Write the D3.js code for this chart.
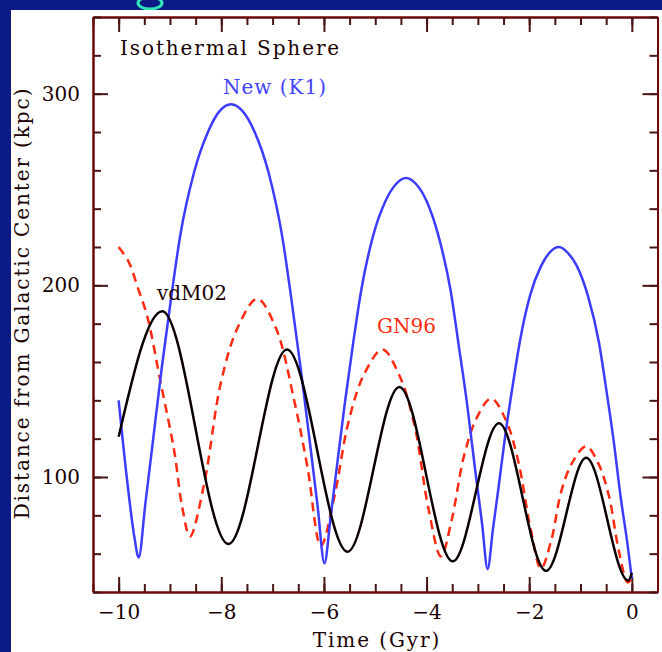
<!DOCTYPE html>
<html>
   <head>
      <meta charset="utf-8">
      <title>Isothermal Sphere orbits</title>
      <style media="screen">
         body {
         margin: 0;
         background: #0c1a86;
         }
         .tick text {
         font-family: "DejaVu Serif", serif;
         font-size: 20px;
         fill: #1a0000;
         }
         .label {
         font-family: "DejaVu Serif", serif;
         font-size: 20px;
         }
         .wide {
         letter-spacing: 1.9px;
         }
      </style>
      <script type="text/javascript" src="https://d3js.org/d3.v7.min.js"></script>
   </head>
   <body>
      <script>
         // size of the page and of the plot frame
         var w = 662;
         var h = 652;
         var left = 93;
         var right = 657.5;
         var top_y = 17;
         var bottom = 592;

         // axis ranges and tick values
         var x_domain = [-10.5, 0.5];
         var y_domain = [40, 340];
         var x_major = [-10, -8, -6, -4, -2, 0];
         var x_minor = d3.range(-10.5, 0.51, 0.5);
         var y_major = [100, 200, 300];
         var y_minor = d3.range(40, 341, 20);

         // New (K1) orbit, time in Gyr and distance in kpc
         var new_t = [-10, -9.83, -9.69, -9.61, -9.48, -9.34, -9.16, -8.98, -8.80, -8.53, -8.26, -8.03,
                      -7.81, -7.59, -7.35, -7.08, -6.81, -6.63, -6.45, -6.26, -6.12, -5.99,
                      -5.87, -5.75, -5.59, -5.43, -5.27, -5.04, -4.80, -4.59, -4.40,
                      -4.21, -4.00, -3.76, -3.53, -3.37, -3.21, -3.05, -2.92, -2.81,
                      -2.71, -2.60, -2.46, -2.32, -2.18, -1.98, -1.77, -1.59, -1.42,
                      -1.25, -1.07, -0.85, -0.64, -0.50, -0.36, -0.21, -0.09, 0];
         var new_r = [140, 97, 68, 58, 86, 117, 157, 193, 226, 259, 280, 291,
                      294.5, 291, 280, 259, 225, 192, 156, 115, 84, 55,
                      79, 105, 139, 170, 198, 226, 244, 253, 256,
                      253, 244, 225, 197, 168, 138, 103, 76, 52,
                      72, 94, 123, 148, 171, 195, 210, 217.5, 220,
                      217, 210, 194, 170, 146, 120, 88, 66, 47];

         // vdM02 orbit
         var vdm_t = [-10, -9.15, -7.86, -6.72, -5.54, -4.53, -3.49, -2.59, -1.67, -0.89, -0.07, 0];
         var vdm_r = [121, 186.5, 65, 166.5, 61, 147, 56, 128, 51, 110, 46, 50];

         // GN96 orbit
         var gn_t = [-10, -9.80, -9.63, -9.44, -9.18, -8.92, -8.76, -8.61,
                     -8.33, -8.01, -7.68, -7.30, -6.94, -6.58, -6.32, -6.06,
                     -5.81, -5.51, -5.21, -4.86, -4.53, -4.24, -3.96, -3.72,
                     -3.51, -3.27, -3.02, -2.74, -2.46, -2.22, -1.97, -1.77,
                     -1.57, -1.37, -1.15, -0.89, -0.66, -0.45, -0.25, -0.08, 0];
         var gn_r = [220, 212, 199, 183.5, 149, 114, 84, 69,
                     97, 149, 178, 193, 178, 140, 105, 64,
                     88, 130, 154, 166.5, 153, 127.6, 83, 58.6,
                     77.6, 111, 131, 141, 130, 109, 72.6, 52.2,
                     67, 93, 108, 116, 107.5, 90.5, 61, 45, 47];

         // labels written on the chart
         var title_text = "Isothermal Sphere";
         var x_title = "Time (Gyr)";
         var y_title = "Distance from Galactic Center (kpc)";

         var x_scale = d3.scaleLinear().domain(x_domain).range([left, right]);
         var y_scale = d3.scaleLinear().domain(y_domain).range([bottom, top_y]);

         var svg = d3.select("body")
                     .append("svg")
                     .attr("width", w)
                     .attr("height", h)
                     .style("display", "block");

         // dark background and the white sheet of the plot
         svg.append("rect")
            .attr("width", w)
            .attr("height", h)
            .attr("fill", "#0c1a86");
         svg.append("ellipse")
            .attr("cx", 150).attr("cy", 3)
            .attr("rx", 12).attr("ry", 6)
            .attr("fill", "none")
            .attr("stroke", "#2fe6b4")
            .attr("stroke-width", 3);
         svg.append("rect")
            .attr("x", 11)
            .attr("y", 10)
            .attr("width", w - 11)
            .attr("height", h - 10)
            .attr("fill", "white");

         // draws one axis with inward ticks
         function draw_axis(axis, transform, values, size, labels) {
           var g = svg.append("g")
              .attr("transform", transform)
              .call(axis.tickValues(values)
                        .tickSizeInner(-size)
                        .tickSizeOuter(0)
                        .tickPadding(13)
                        .tickFormat(labels ? d3.format("d") : ""));
           g.select(".domain").attr("stroke", "#6a0808").attr("stroke-width", 2);
           g.selectAll(".tick line").attr("stroke", "#4a1414").attr("stroke-width", 2);
           return g;
         }

         // bottom and left axes with labels, top and right only ticks
         draw_axis(d3.axisBottom(x_scale), "translate(0," + bottom + ")", x_minor, 8, false);
         draw_axis(d3.axisBottom(x_scale), "translate(0," + bottom + ")", x_major, 15, true);
         draw_axis(d3.axisTop(x_scale), "translate(0," + top_y + ")", x_minor, 8, false);
         draw_axis(d3.axisTop(x_scale), "translate(0," + top_y + ")", x_major, 15, false);
         draw_axis(d3.axisLeft(y_scale), "translate(" + left + ",0)", y_minor, 8, false);
         draw_axis(d3.axisLeft(y_scale), "translate(" + left + ",0)", y_major, 15, true);
         draw_axis(d3.axisRight(y_scale), "translate(" + right + ",0)", y_minor, 8, false);
         draw_axis(d3.axisRight(y_scale), "translate(" + right + ",0)", y_major, 15, false);

         // line generator for the orbits
         function orbit(ts, rs, curve) {
           var pts = ts.map(function(t, i) { return [t, rs[i]]; });
           return d3.line()
                    .x(function(d) { return x_scale(d[0]); })
                    .y(function(d) { return y_scale(d[1]); })
                    .curve(curve)(pts);
         }

         svg.append("path")
            .attr("d", orbit(gn_t, gn_r, d3.curveCatmullRom.alpha(0.5)))
            .attr("fill", "none")
            .attr("stroke", "#ff2a10")
            .attr("stroke-width", 2.5)
            .attr("stroke-dasharray", "9,6");
         svg.append("path")
            .attr("d", orbit(new_t, new_r, d3.curveMonotoneX))
            .attr("fill", "none")
            .attr("stroke", "#3c3cff")
            .attr("stroke-width", 2.5);
         svg.append("path")
            .attr("d", orbit(vdm_t, vdm_r, d3.curveMonotoneX))
            .attr("fill", "none")
            .attr("stroke", "#0a0000")
            .attr("stroke-width", 2.5);

         // text on the chart
         svg.append("text").attr("class", "label wide")
            .attr("x", 120).attr("y", 55)
            .attr("fill", "#1a0000")
            .text(title_text);
         svg.append("text").attr("class", "label")
            .attr("x", 223).attr("y", 94)
            .attr("fill", "#4444ff")
            .style("letter-spacing", "1px")
            .text("New (K1)");
         svg.append("text").attr("class", "label")
            .attr("x", 157).attr("y", 300)
            .attr("fill", "#1a0000")
            .text("vdM02");
         svg.append("text").attr("class", "label")
            .attr("x", 377).attr("y", 333)
            .attr("fill", "#ff2a10")
            .text("GN96");

         // axis titles
         svg.append("text").attr("class", "label wide")
            .attr("x", 377).attr("y", 647)
            .attr("fill", "#1a0000")
            .style("text-anchor", "middle")
            .text(x_title);
         svg.append("text").attr("class", "label wide")
            .attr("transform", "rotate(-90)")
            .attr("x", -303).attr("y", 29)
            .attr("fill", "#1a0000")
            .style("text-anchor", "middle")
            .text(y_title);
      </script>
   </body>
</html>
